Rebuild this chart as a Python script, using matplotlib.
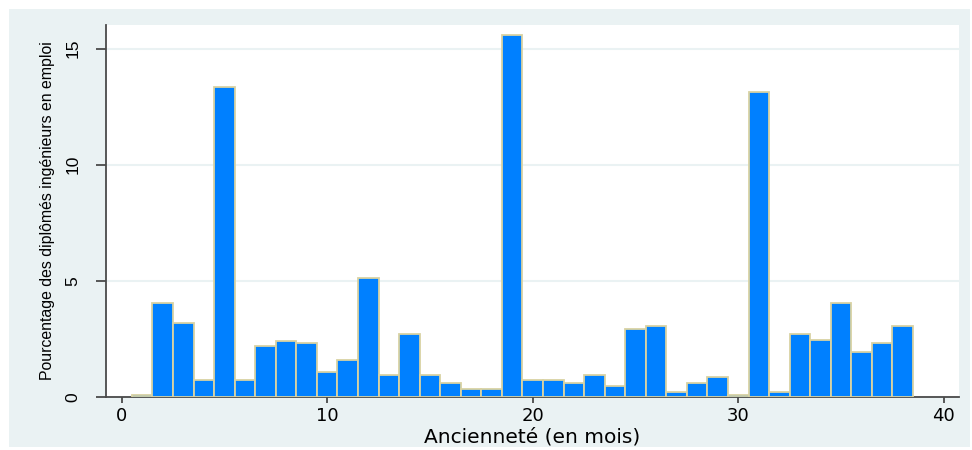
import numpy as np
import matplotlib.pyplot as plt
from matplotlib.patches import Rectangle

# Données : ancienneté (mois) et pourcentage
mois = np.arange(1, 39)
pourcentage = [
    0.08, 4.04, 3.18, 0.72, 13.36, 0.72, 2.18, 2.43, 2.31, 1.09,
    1.58, 5.14, 0.95, 2.70, 0.95, 0.59, 0.34, 0.34, 15.59, 0.72,
    0.72, 0.60, 0.96, 0.47, 2.93, 3.07, 0.23, 0.60, 0.85, 0.09,
    13.13, 0.22, 2.70, 2.44, 4.04, 1.94, 2.33, 3.07,
]
xticks = [0, 10, 20, 30, 40]
yticks = [0, 5, 10, 15]

fond = '#eaf2f3'
axe = '#4a4a4a'

fig = plt.figure(figsize=(9.72, 4.5), dpi=100, facecolor='white')
fig.patches.append(Rectangle((9 / 972, 1 - 447 / 450), 961 / 972, 438 / 450,
                             transform=fig.transFigure, facecolor=fond,
                             edgecolor='none', zorder=-10))

ax = fig.add_axes([106 / 972, 1 - 397 / 450, 853 / 972, 372 / 450])
ax.set_facecolor('white')

ax.bar(mois, pourcentage, width=1, color='#0080ff', edgecolor='#d9d2a2',
       linewidth=1.3, zorder=3)

ax.set_xlim(-0.76, 40.74)
ax.set_ylim(0, 16.02)

ax.set_yticks(yticks)
ax.set_xticks(xticks)
ax.yaxis.grid(True, color=fond, linewidth=1.5, zorder=0)
ax.set_axisbelow(True)

for s in ['top', 'right']:
    ax.spines[s].set_visible(False)
for s in ['left', 'bottom']:
    ax.spines[s].set_color(axe)
    ax.spines[s].set_linewidth(1.3)

ax.tick_params(axis='y', length=7.2, width=1.3, color=axe, pad=11)
ax.tick_params(axis='x', length=4.3, width=1.3, color=axe, pad=3)

for lab in ax.get_yticklabels():
    lab.set_rotation(90)
    lab.set_va('center')
    lab.set_ha('right')
    lab.set_family('Liberation Sans')
    lab.set_fontsize(12.5)
for lab in ax.get_xticklabels():
    lab.set_family('DejaVu Sans')
    lab.set_fontsize(13)

ax.set_xlabel('Ancienneté (en mois)', family='DejaVu Sans', fontsize=14.5, labelpad=1.5)
ax.set_ylabel('Pourcentage des diplômés ingénieurs en emploi', family='Liberation Sans',
              fontsize=11.4, labelpad=8)

fig.savefig('out.png', dpi=100, facecolor='white')
